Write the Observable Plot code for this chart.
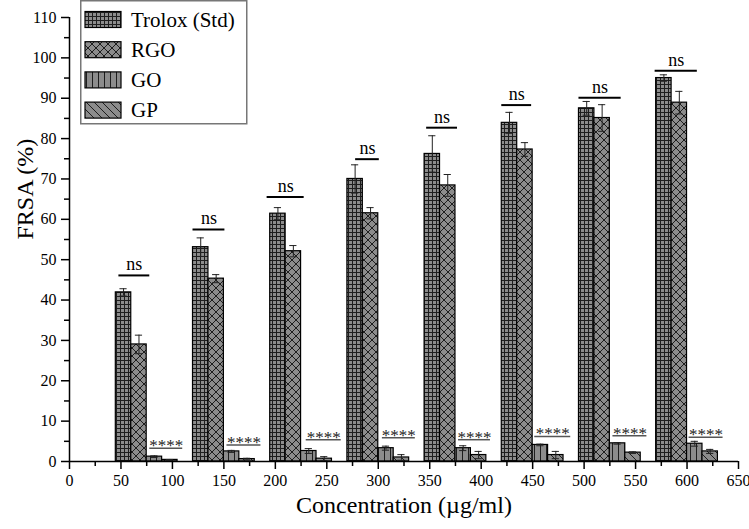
<!DOCTYPE html>
<html>
<head>
<meta charset="utf-8">
<script src="https://cdn.jsdelivr.net/npm/d3@7"></script>
<script src="https://cdn.jsdelivr.net/npm/@observablehq/plot@0.6"></script>
<style>
body { margin: 0; background: #fff; }
#chart { position: relative; width: 749px; height: 529px; font-family: "Liberation Serif", "Times New Roman", serif; }
#chart svg, #chart svg text { font-family: "Liberation Serif", "Times New Roman", serif !important; }
#legend { position: absolute; left: 80px; top: 0px; }
</style>
</head>
<body>
<div id="chart"></div>
<script>
// data
const concentrations = [75, 150, 225, 300, 375, 450, 525, 600];
const series = ['Trolox (Std)', 'RGO', 'GO', 'GP'];
const trolox = [41.9, 53.1, 61.4, 70.0, 76.2, 83.9, 87.5, 95.0];
const troloxErr = [0.9, 2.3, 1.5, 3.5, 4.5, 2.6, 1.7, 0.8];
const rgo = [29.0, 45.3, 52.1, 61.5, 68.4, 77.3, 85.1, 88.9];
const rgoErr = [2.3, 1.0, 1.4, 1.4, 2.7, 1.7, 3.3, 2.8];
const go = [1.2, 2.5, 2.6, 3.3, 3.3, 4.1, 4.5, 4.4];
const goErr = [0.2, 0.25, 0.6, 0.5, 0.6, 0.2, 0.2, 0.6];
const gp = [0.4, 0.6, 0.7, 1.0, 1.6, 1.6, 2.2, 2.5];
const gpErr = [0.1, 0.2, 0.5, 0.7, 0.9, 0.9, 0.2, 0.5];

// significance marks: line height and extent in axis units
const nsY = [46.1, 57.5, 65.5, 74.9, 82.7, 88.3, 90.1, 96.8];
const nsFrom = [48, 120, 192, 278, 347, 420, 495, 569];
const nsTo = [78, 151, 228, 301, 377, 449, 536, 610];
const starY = [3.3, 4.1, 5.4, 5.9, 5.4, 6.2, 6.4, 6.0];
const starFrom = [78, 153, 230, 304, 378, 452, 528, 602];
const starTo = [110, 186, 264, 336, 409, 487, 561, 635];

const xTicks = d3.range(0, 651, 50);
const yTicks = d3.range(0, 111, 10);


// long table
const values = [trolox, rgo, go, gp];
const errors = [troloxErr, rgoErr, goErr, gpErr];
const patternIds = ['p-trolox', 'p-rgo', 'p-go', 'p-gp'];
const barW = 15;
const serif = '"Liberation Serif", "Times New Roman", serif';

const bars = series.flatMap((s, i) => concentrations.map((c, j) => ({
	series: s,
	i: i,
	left: c - 2 * barW + i * barW,
	mid: c - 2 * barW + (i + 0.5) * barW,
	v: values[i][j],
	e: errors[i][j]
})));

const ns = concentrations.map((c, j) => ({y: nsY[j], x1: nsFrom[j], x2: nsTo[j]}));
const stars = concentrations.map((c, j) => ({y: starY[j], x1: starFrom[j], x2: starTo[j]}));


// plot
let fig = Plot.plot({
	width: 749,
	height: 529,
	marginLeft: 69,
	marginRight: 11,
	marginTop: 17,
	marginBottom: 68,
	style: {fontFamily: serif, fontSize: '16px', color: 'black', background: 'white'},
	x: {domain: [0, 650]},
	y: {domain: [0, 110]},
	marks: [
		...series.map((s, i) => Plot.rect(bars.filter(d => d.i === i), {
			x1: 'left',
			x2: d => d.left + barW,
			y1: 0,
			y2: 'v',
			fill: `url(#${patternIds[i]})`,
			stroke: 'black',
			strokeWidth: 1.2
		})),
		// error bars
		Plot.ruleX(bars, {x: 'mid', y1: d => d.v - d.e, y2: d => d.v + d.e, stroke: '#222', strokeWidth: 1}),
		Plot.ruleY(bars, {y: d => d.v + d.e, x1: d => d.mid - 3.5, x2: d => d.mid + 3.5, stroke: '#222', strokeWidth: 1}),
		Plot.ruleY(bars, {y: d => d.v - d.e, x1: d => d.mid - 3.5, x2: d => d.mid + 3.5, stroke: '#222', strokeWidth: 1}),
		// significance
		Plot.ruleY(ns, {y: 'y', x1: 'x1', x2: 'x2', stroke: 'black', strokeWidth: 2}),
		Plot.text(ns, {x: d => (d.x1 + d.x2) / 2, y: 'y', text: () => 'ns', lineAnchor: 'bottom', dy: -5, fontSize: 18, fill: 'black', fontFamily: serif}),
		Plot.ruleY(stars, {y: 'y', x1: 'x1', x2: 'x2', stroke: '#555', strokeWidth: 1.5}),
		Plot.text(stars, {x: d => (d.x1 + d.x2) / 2, y: 'y', text: () => '****', lineAnchor: 'bottom', dy: 3, fontSize: 17, fill: '#222', fontFamily: serif}),
		// axes
		Plot.ruleX([0], {stroke: 'black', strokeWidth: 1.5}),
		Plot.ruleY([0], {stroke: 'black', strokeWidth: 1.5}),
		Plot.axisX({ticks: xTicks, tickSize: 8, tickPadding: 5, strokeWidth: 1.5, fontSize: 16, fontFamily: serif, label: null}),
		Plot.axisX({ticks: d3.range(25, 650, 50), tickSize: 5, strokeWidth: 1.5, tickFormat: () => '', label: null}),
		Plot.axisY({ticks: yTicks, tickSize: 8, tickPadding: 5, strokeWidth: 1.5, fontSize: 16, fontFamily: serif, label: null}),
		Plot.axisY({ticks: d3.range(5, 110, 10), tickSize: 5, strokeWidth: 1.5, tickFormat: () => '', label: null}),
		Plot.text(['Concentration (µg/ml)'], {frameAnchor: 'bottom', text: d => d, lineAnchor: 'bottom', dy: 51, fontSize: 24, fontFamily: serif}),
		Plot.text(['FRSA (%)'], {frameAnchor: 'left', text: d => d, rotate: -90, dx: -44, fontSize: 24, fontFamily: serif})
	]
});

// hatch patterns
const defs = d3.select(fig).insert('defs', ':first-child');
const base = '#8c8c8c';
const ink = '#1e1e1e';
function addPattern(id, size, path) {
	const p = defs.append('pattern')
		.attr('id', id)
		.attr('patternUnits', 'userSpaceOnUse')
		.attr('width', size)
		.attr('height', size);
	p.append('rect').attr('width', size).attr('height', size).attr('fill', base);
	p.append('path').attr('d', path).attr('stroke', ink).attr('stroke-width', 1).attr('fill', 'none');
}
addPattern('p-trolox', 4, 'M0 0.5H4M0.5 0V4');
addPattern('p-rgo', 8, 'M0 0L8 8M8 0L0 8');
addPattern('p-go', 6, 'M0.5 0V6');
addPattern('p-gp', 8, 'M0 0L8 8M-2 6L2 10M6 -2L10 2');

const chart = document.querySelector('#chart');
chart.append(fig);


// legend
const legend = d3.select(chart).append('svg')
	.attr('id', 'legend')
	.attr('width', 168)
	.attr('height', 126);
legend.append('rect')
	.attr('x', 0.75).attr('y', 0.75)
	.attr('width', 166).attr('height', 123)
	.attr('fill', 'white').attr('stroke', '#777').attr('stroke-width', 1.5);
series.forEach((s, i) => {
	const cy = 19.5 + 30.2 * i;
	legend.append('rect')
		.attr('x', 5).attr('y', cy - 8)
		.attr('width', 36).attr('height', 16)
		.attr('fill', `url(#${patternIds[i]})`)
		.attr('stroke', 'black').attr('stroke-width', 1.2);
	legend.append('text')
		.attr('x', 51).attr('y', cy + 7)
		.attr('font-family', serif)
		.attr('font-size', 21)
		.text(s);
});
</script>
</body>
</html>
